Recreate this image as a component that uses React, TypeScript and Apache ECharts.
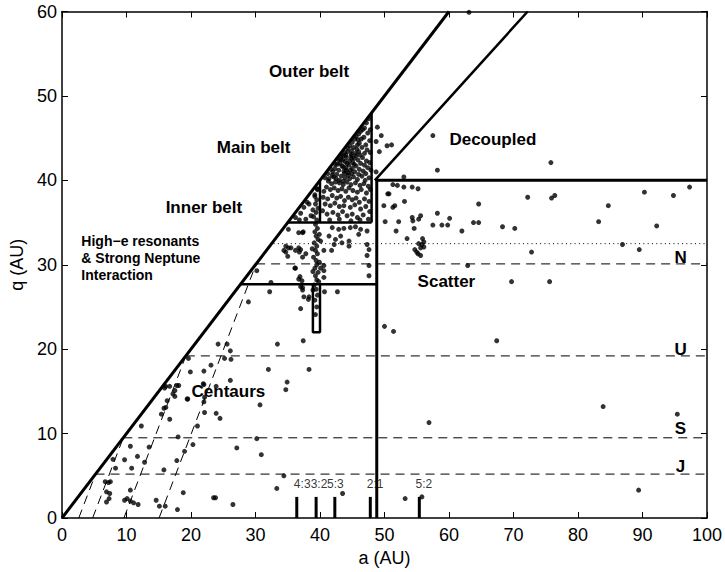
import React, { useEffect, useRef } from 'react';
import * as echarts from 'echarts';

// ---------- data (a in AU, q in AU) ----------
const centaurPoints: number[][] = [
  [16.1, 15.6], [17.5, 15.1], [17.2, 14.7], [21.9, 15.9], [16.3, 13.9], [16.1, 13.1], [15.8, 13.0],
  [15.4, 12.3], [16.7, 11.7], [22.1, 12.5], [12.3, 10.9], [21.0, 10.9], [18.0, 9.6], [10.6, 8.5],
  [13.5, 8.4], [20.3, 8.7], [19.0, 7.9], [11.7, 7.3], [7.9, 6.95], [9.7, 6.9], [12.8, 6.6], [17.8, 6.8],
  [8.3, 5.9], [10.8, 5.9], [15.8, 5.7], [6.7, 4.3], [7.2, 4.2], [7.5, 4.3], [6.9, 3.1], [7.4, 2.9],
  [10.6, 3.3], [18.8, 3.0], [7.3, 2.3], [6.9, 1.9], [9.7, 2.1], [10.1, 2.3], [10.6, 2.0], [11.1, 1.8],
  [14.6, 2.1], [16.0, 1.4], [17.9, 1.0], [11.8, 1.6], [15.1, 1.4], [23.5, 2.4], [23.8, 2.4], [26.5, 1.6],
  [34.4, 5.0], [33.3, 3.5], [27.1, 8.3], [30.2, 9.4], [30.9, 7.5], [30.7, 13.4], [23.9, 12.4], [24.5, 11.8],
  [19.5, 14.1], [22.0, 15.8], [23.9, 15.6], [26.1, 16.3], [34.9, 16.1], [34.7, 15.2], [16.7, 15.6],
  [17.8, 15.7], [24.2, 20.6], [25.6, 20.6], [26.1, 19.8], [25.2, 18.9], [26.2, 18.8], [33.4, 20.6],
  [37.4, 21.0], [19.6, 18.9], [19.9, 17.3], [22.0, 17.4], [23.1, 18.1], [32.0, 17.6], [38.3, 17.6],
  [15.9, 15.4], [18.1, 15.7], [17.5, 14.4], [19.4, 14.1], [22.1, 14.3], [22.0, 13.75], [28.9, 25.6],
  [32.2, 26.8], [37.5, 26.2], [37.0, 24.8], [38.3, 26.2], [37.3, 27.3], [40.7, 26.8], [42.7, 26.8],
  [38.2, 25.9], [43.5, 2.9],
];

const innerBeltPoints: number[][] = [
  [35.1, 34.2], [34.7, 32.2], [35.1, 32.0], [34.7, 31.5], [35.0, 31.0], [36.2, 29.6], [36.7, 32.0],
  [37.3, 33.8], [36.9, 28.6], [36.7, 33.8], [37.4, 33.9], [35.5, 32.0], [34.4, 31.7], [36.2, 31.7],
  [36.8, 31.5], [37.0, 31.8], [37.3, 30.9], [37.8, 31.3], [36.1, 29.6], [36.7, 28.3], [37.2, 28.1],
  [37.0, 27.4], [37.3, 27.0], [40.6, 29.9], [40.6, 29.3], [40.6, 28.5], [40.1, 32.8], [40.6, 31.7],
  [41.4, 33.4], [41.8, 31.7], [42.2, 32.4], [42.4, 33.0], [41.9, 34.4], [42.9, 34.2], [43.7, 34.3],
  [44.7, 34.4], [45.5, 34.5], [46.3, 34.2], [46.0, 33.6], [47.3, 34.0], [44.5, 32.8], [44.5, 32.2],
  [43.2, 33.4], [43.4, 32.6], [47.3, 32.4], [47.6, 31.8], [47.3, 31.1], [47.6, 29.9], [47.6, 28.7],
  [30.2, 29.3], [32.4, 27.9],
];

const resonantColumn: number[][] = [
  [39.3, 24.1], [39.5, 25.0], [39.2, 25.8], [39.6, 26.4], [39.4, 27.1], [39.1, 27.6], [39.5, 28.2],
  [39.3, 28.7], [39.7, 29.1], [39.2, 29.6], [39.5, 30.0], [39.4, 30.5], [39.0, 30.9], [39.6, 31.3],
  [39.3, 31.7], [39.5, 32.2], [39.1, 32.6], [39.7, 33.0], [39.4, 33.4], [39.2, 33.9], [39.6, 34.3],
  [39.3, 34.8], [39.5, 35.3], [39.0, 35.7], [39.4, 36.2], [39.7, 36.7], [39.3, 37.2], [39.5, 37.7],
  [39.2, 38.3], [39.6, 39.0], [39.8, 28.0], [38.9, 29.2], [39.9, 30.3], [38.8, 31.9], [39.9, 33.6],
  [40.1, 29.6], [38.9, 27.0],
];

const mainBeltPoints: number[][] = [
  [47.2, 46.8], [47.6, 47.3], [46.9, 46.2], [47.8, 46.0],
  [45.6, 45.2], [46.3, 45.8], [46.8, 45.1], [47.4, 45.6], [45.9, 44.8], [47.7, 44.7], [46.1, 44.4], [47.1, 44.2],
  [44.6, 44.1], [45.2, 43.9], [44.9, 43.5], [45.7, 43.7], [46.5, 43.9], [47.3, 43.6], [46.9, 43.2], [47.8, 43.3],
  [45.5, 43.2], [44.3, 43.4], [46.2, 43.0],
  [43.6, 42.9], [44.1, 42.7], [44.8, 42.9], [45.3, 42.6], [45.9, 42.4], [46.6, 42.7], [47.2, 42.3], [47.7, 42.1],
  [43.9, 42.2], [44.6, 42.3], [45.1, 42.1], [46.3, 42.0], [46.9, 41.8], [43.2, 42.5],
  [42.7, 41.9], [43.4, 41.7], [44.0, 41.5], [44.5, 41.8], [45.0, 41.4], [45.6, 41.7], [46.1, 41.3], [46.7, 41.1],
  [47.4, 41.5], [47.9, 41.2], [42.9, 41.2], [43.7, 41.1], [44.3, 40.9], [44.9, 40.8], [45.4, 41.0], [46.0, 40.7],
  [46.5, 40.5], [47.1, 40.8], [47.6, 40.3], [42.3, 41.4], [42.0, 41.0], [41.9, 40.6], [42.6, 40.7], [43.3, 40.5],
  [43.9, 40.3], [44.6, 40.2], [45.2, 40.4], [45.8, 40.1], [47.0, 40.0],
  [41.3, 39.9], [41.8, 39.6], [42.4, 39.8], [43.0, 39.7], [43.6, 39.5], [44.2, 39.8], [44.8, 39.5], [45.5, 39.7],
  [46.2, 39.4], [46.8, 39.6], [47.5, 39.3], [41.0, 39.2], [41.6, 38.9], [42.2, 39.1], [42.8, 38.8], [43.4, 39.0],
  [44.0, 38.7], [44.5, 39.1], [45.1, 38.8], [45.8, 38.6], [46.4, 38.9], [47.2, 38.5], [47.8, 38.9], [40.6, 38.7],
  [40.5, 38.0], [41.2, 37.8], [41.9, 38.2], [42.6, 37.9], [43.2, 38.1], [43.8, 37.6], [44.4, 38.0], [45.0, 37.7],
  [45.6, 37.9], [46.1, 37.4], [46.9, 37.8], [47.6, 37.5], [40.8, 37.2], [41.6, 37.0], [42.3, 37.3], [43.0, 36.9],
  [43.7, 37.0], [44.7, 36.8], [45.4, 37.1], [46.3, 36.6], [47.1, 36.9], [47.7, 36.3],
  [40.4, 36.4], [41.1, 36.0], [42.0, 36.2], [42.8, 35.9], [43.5, 36.3], [44.2, 35.8], [45.0, 36.0], [45.8, 35.6],
  [46.7, 35.9], [47.5, 35.4], [41.5, 35.3], [43.0, 35.4], [44.8, 35.2], [46.2, 35.3],
  [43.1, 42.0], [43.5, 42.4], [44.2, 42.0], [44.7, 41.2], [43.8, 40.8], [44.1, 41.2], [43.0, 40.0], [44.4, 40.6],
  [45.3, 41.9], [42.5, 40.2], [43.6, 39.9], [44.9, 42.6], [45.6, 42.9], [46.0, 43.4], [44.0, 43.0],
  [45.0, 44.5], [45.4, 44.9], [46.0, 45.5], [46.6, 46.0], [44.3, 43.8], [43.8, 43.3], [43.3, 42.9], [42.9, 42.4],
  [42.4, 41.9], [41.7, 41.3], [41.2, 40.8], [40.8, 40.3], [46.4, 44.9], [45.8, 44.2], [44.9, 43.1], [43.6, 41.6],
  [42.1, 40.4], [41.4, 40.2],
  [36.2, 35.6], [37.0, 36.1], [37.8, 35.4], [38.3, 37.2], [38.9, 36.5], [37.5, 36.8], [39.2, 38.1], [38.6, 35.8],
  [36.8, 35.3], [39.6, 38.9], [38.0, 37.4],
];

const scatteredPoints: number[][] = [
  [49.9, 37.0], [50.1, 35.1], [51.8, 34.0], [50.0, 22.7], [51.4, 22.1], [50.5, 38.4], [51.3, 39.5], [51.3, 36.8],
  [53.0, 39.2], [54.3, 39.2], [55.2, 39.0], [53.1, 37.5], [52.2, 35.1], [54.3, 35.6], [54.4, 35.2], [55.6, 35.8],
  [55.3, 35.4], [54.6, 34.3], [53.5, 33.1], [55.9, 33.1], [56.1, 32.7], [55.8, 32.4], [55.3, 32.5], [55.6, 32.0],
  [54.7, 31.8], [55.0, 31.5], [55.6, 31.1], [55.2, 31.3], [56.1, 32.1], [57.5, 34.7], [58.2, 36.1], [58.9, 34.7],
  [59.8, 34.7], [60.1, 35.5], [62.0, 34.0], [63.8, 35.0], [64.6, 35.0], [64.6, 37.2], [62.9, 29.9], [68.3, 34.5],
  [70.2, 34.3], [72.2, 38.0], [75.9, 37.9], [76.4, 38.2], [72.8, 31.5], [69.7, 28.0], [75.6, 28.0], [67.4, 21.0],
  [83.2, 35.1], [84.7, 37.0], [90.3, 38.6], [92.2, 34.6], [94.8, 38.2], [97.3, 39.2], [86.9, 32.4], [89.5, 31.8],
  [56.9, 11.3], [83.9, 13.2], [95.4, 12.3], [53.2, 2.3], [55.8, 2.5], [89.4, 3.3], [52.0, 39.4], [51.6, 37.0],
  [50.7, 38.4],
];

const detachedPoints: number[][] = [
  [58.2, 41.2], [75.8, 42.1], [63.1, 59.9], [57.5, 45.3], [48.9, 46.3], [49.5, 45.3], [49.2, 43.4], [50.4, 44.1],
  [51.1, 44.2], [53.0, 40.4], [48.7, 44.6], [48.7, 41.0],
];

// resonances (semi-major axis of each mean-motion resonance)
const resonanceNames = ['4:3', '3:2', '5:3', '2:1', '5:2'];
const resonanceA = [36.4, 39.4, 42.3, 47.8, 55.4];
const resonanceLabelA = [35.95, 38.55, 41.1, 47.25, 54.8];
const resonanceBarTop = 2.5;
const resonanceLabelQ = 4.0;

// planets: perihelion lines (q = planet's distance) and aphelion lines (Q = 2a - q)
const planetNames = ['J', 'S', 'U', 'N'];
const planetQ = [5.2, 9.5, 19.2, 30.1];
const planetLabelQ = [6.1, 10.6, 20.0, 30.8];
const planetLabelA = 95.9;

// region boundaries
const diagonalLine = [[0, 0], [60, 60]];
const outerBeltLine = [[48.5, 40], [72.2, 60]];
const mainBeltBottom = [[35, 35], [48, 35]];
const mainBeltLeft = [[40, 35], [40, 40]];
const mainBeltRight = [[48, 35], [48, 48]];
const innerBeltBottom = [[27.7, 27.7], [48.8, 27.7]];
const plutinoBox = [[38.9, 27.7], [38.9, 22], [40, 22], [40, 27.7]];
const scatterBoundary = [[48.8, 0], [48.8, 40], [100, 40]];
const dottedQ = 32.5;
const dottedStartA = 32.8;

// region labels
const regionNames = ['Outer belt', 'Main belt', 'Inner belt', 'Decoupled', 'Scatter', 'Centaurs'];
const regionA = [38.3, 29.7, 22.0, 66.8, 59.6, 25.8];
const regionQ = [52.9, 43.9, 36.8, 44.8, 28.05, 15.0];
const highELabel = 'High\u2212e resonants\n& Strong Neptune\nInteraction';
const highELabelA = 3.0;
const highELabelQ = 30.8;

const FONT = '"Liberation Sans", Arial, Helvetica, sans-serif';

export default function App() {
  const ref = useRef<HTMLDivElement>(null);
  useEffect(() => {
    if (!ref.current) return;
    const chart = echarts.init(ref.current, undefined, { renderer: 'svg' });

    const lineSeries = (data: any[], width: number, type: any = 'solid') => ({
      type: 'line',
      data,
      symbol: 'none',
      showSymbol: false,
      silent: true,
      z: 2,
      lineStyle: { color: '#000', width, type, cap: 'butt' },
    });

    const dash = [9, 6];
    const series: any[] = [
      lineSeries(diagonalLine, 3),
      lineSeries(outerBeltLine, 2.5),
      lineSeries(mainBeltBottom, 2.5),
      lineSeries(mainBeltLeft, 2.5),
      lineSeries(mainBeltRight, 2.5),
      lineSeries(innerBeltBottom, 2.5),
      lineSeries(plutinoBox, 2.5),
      lineSeries(scatterBoundary, 3),
      lineSeries([[dottedStartA, dottedQ], [100, dottedQ]], 1, [1, 3.3]),
    ];
    planetQ.forEach((q) => {
      series.push(lineSeries([[q, q], [100, q]], 1, dash));
      series.push(lineSeries([[q / 2, 0], [q, q]], 1, dash));
    });
    resonanceA.forEach((a) => {
      series.push(lineSeries([[a, 0], [a, resonanceBarTop]], 3));
    });

    const allPoints = [
      ...centaurPoints, ...innerBeltPoints, ...resonantColumn, ...mainBeltPoints,
      ...scatteredPoints, ...detachedPoints,
    ];
    series.push({
      type: 'scatter',
      data: allPoints,
      symbol: 'circle',
      symbolSize: 5,
      silent: true,
      z: 3,
      itemStyle: { color: '#000' },
    });

    const boldLabel = {
      fontFamily: FONT, fontWeight: 'bold', fontSize: 17, color: '#000',
      textBorderWidth: 0, opacity: 1,
    };
    const textItems: any[] = [];
    regionNames.forEach((n, i) => {
      textItems.push({ name: n, value: [regionA[i], regionQ[i]], label: { ...boldLabel, align: 'center' } });
    });
    planetNames.forEach((n, i) => {
      textItems.push({ name: n, value: [planetLabelA, planetLabelQ[i]], label: { ...boldLabel, align: 'center' } });
    });
    textItems.push({
      name: highELabel,
      value: [highELabelA, highELabelQ],
      label: { ...boldLabel, fontSize: 14, lineHeight: 17, align: 'left' },
    });
    resonanceNames.forEach((n, i) => {
      textItems.push({
        name: n,
        value: [resonanceLabelA[i], resonanceLabelQ],
        label: { fontFamily: FONT, fontSize: 12, color: '#000', textBorderWidth: 0, align: 'left' },
      });
    });
    series.push({
      type: 'scatter',
      data: textItems,
      symbolSize: 1,
      silent: true,
      z: 4,
      itemStyle: { color: 'rgba(255,255,255,0)' },
      label: {
        show: true,
        position: 'inside',
        formatter: '{b}',
        color: '#000',
        textBorderWidth: 0,
        verticalAlign: 'middle',
      },
    });

    const axisCommon = {
      type: 'value',
      splitLine: { show: false },
      axisLine: { show: true, onZero: false, lineStyle: { color: '#000', width: 1.5 } },
      axisTick: { show: true, inside: true, length: 6, lineStyle: { color: '#000', width: 1 } },
    };
    const labelStyle = { color: '#000', fontSize: 18, fontFamily: FONT };
    const nameStyle = { color: '#000', fontSize: 18, fontFamily: FONT };

    chart.setOption({
      animation: false,
      backgroundColor: '#fff',
      grid: { left: 62, right: 15.5, top: 11.5, bottom: 49, containLabel: false },
      xAxis: [
        {
          ...axisCommon, min: 0, max: 100, interval: 10, position: 'bottom',
          axisLabel: { ...labelStyle, margin: 8 },
          name: 'a (AU)', nameLocation: 'middle', nameGap: 31, nameTextStyle: nameStyle,
        },
        { ...axisCommon, min: 0, max: 100, interval: 10, position: 'top', axisLabel: { show: false } },
      ],
      yAxis: [
        {
          ...axisCommon, min: 0, max: 60, interval: 10, position: 'left',
          axisLabel: { ...labelStyle, margin: 5 },
          name: 'q (AU)', nameLocation: 'middle', nameGap: 36, nameTextStyle: nameStyle,
        },
        { ...axisCommon, min: 0, max: 60, interval: 10, position: 'right', axisLabel: { show: false } },
      ],
      series,
    });
    return () => chart.dispose();
  }, []);

  return (
    <div
      ref={ref}
      style={{ position: 'absolute', left: 0, top: 0, width: 725, height: 572, background: '#fff' }}
    />
  );
}
